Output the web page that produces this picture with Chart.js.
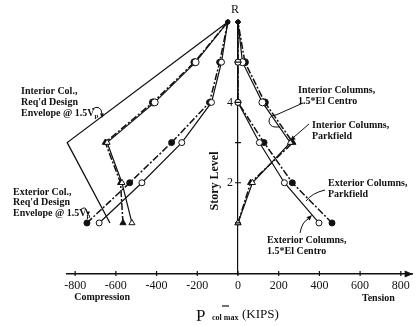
<!DOCTYPE html>
<html>
<head>
<meta charset="utf-8">
<script src="https://cdn.jsdelivr.net/npm/chart.js@4.4.1/dist/chart.umd.min.js"></script>
<style>
  html, body { margin: 0; padding: 0; background: #fff; }
</style>
</head>
<body>
<canvas id="chart" width="417" height="326"></canvas>
<script>
// story levels, 6 = roof (R)
const levels = [1, 2, 3, 4, 5, 6];
const xTicks = [-800, -600, -400, -200, 0, 200, 400, 600, 800];
const yLabels = { 2: '2', 4: '4', 6: 'R' };

// max column axial force, kips, level 1 .. R  (compression side)
const intElCentroComp = [-521, -570, -643, -409, -208, -50];
const intParkfieldComp = [-565, -577, -652, -418, -214, -50];
const extElCentroComp = [-682, -472, -276, -130, -81, -50];
const extParkfieldComp = [-742, -532, -326, -140, -90, -50];

// tension side
const intElCentroTens = [0, 71, 257, 120, 22, 0];
const intParkfieldTens = [0, 62, 270, 132, 34, 0];
const extElCentroTens = [398, 228, 105, 0, 0, 0];
const extParkfieldTens = [462, 267, 128, 0, 0, 0];

// interior column required design envelope @ 1.5Vp
const envLevels = [1, 3, 6];
const intEnvelope = [-629, -839, -50];

const ink = '#111';
const serif = '"Liberation Serif", "Times New Roman", serif';

const pts = (xs, ys) => xs.map((v, i) => ({ x: v, y: ys[i] }));
const intShape = ctx => (ctx.raw && ctx.raw.y <= 3 ? 'triangle' : 'circle');
// roof points are small filled dots in the original
const radius = r => ctx => (ctx.raw && ctx.raw.y === 6 ? 2 : r);

function series(data, opts) {
  return Object.assign({
    data,
    showLine: true,
    clip: false,
    borderColor: ink,
    borderWidth: 1.2,
    pointBorderColor: ink,
    pointBorderWidth: 1,
    pointRadius: radius(3),
  }, opts);
}

const elCentro = { borderDash: [], pointBackgroundColor: ctx => (ctx.raw && ctx.raw.y === 6 ? ink : '#fff') };
const parkfield = { borderDash: [7, 2, 2, 2], borderWidth: 1.5, pointBackgroundColor: ink };
const interior = { pointStyle: intShape, pointRadius: radius(3.5) };

const datasets = [
  series(pts(intEnvelope, envLevels), { pointRadius: 0, borderWidth: 1.3 }),
  series(pts(extElCentroComp, levels), elCentro),
  series(pts(extParkfieldComp, levels), parkfield),
  series(pts(intElCentroComp, levels), Object.assign({}, interior, elCentro)),
  series(pts(intParkfieldComp, levels), Object.assign({}, interior, parkfield)),
  series(pts(extElCentroTens, levels), elCentro),
  series(pts(extParkfieldTens, levels), parkfield),
  series(pts(intElCentroTens, levels), Object.assign({}, interior, elCentro)),
  series(pts(intParkfieldTens, levels), Object.assign({}, interior, parkfield)),
];

function arrowHead(ctx, x, y, ang, size) {
  ctx.beginPath();
  ctx.moveTo(x, y);
  ctx.lineTo(x - size * Math.cos(ang - 0.4), y - size * Math.sin(ang - 0.4));
  ctx.lineTo(x - size * Math.cos(ang + 0.4), y - size * Math.sin(ang + 0.4));
  ctx.closePath();
  ctx.fill();
}

function textLines(ctx, lines, x, y, lh) {
  lines.forEach((t, i) => {
    if (t.endsWith('Vp')) {
      const base = t.slice(0, -1);
      ctx.fillText(base, x, y + i * lh);
      const w = ctx.measureText(base).width;
      const f = ctx.font;
      ctx.font = 'bold 7px ' + serif;
      ctx.fillText('p', x + w, y + i * lh + 3);
      ctx.font = f;
    } else {
      ctx.fillText(t, x, y + i * lh);
    }
  });
}

const decor = {
  id: 'decor',
  afterDraw(chart) {
    const { ctx, scales: { x, y } } = chart;
    const x0 = x.getPixelForValue(0);
    const yb = y.getPixelForValue(y.min);
    ctx.save();
    ctx.strokeStyle = ink;
    ctx.fillStyle = ink;
    ctx.lineWidth = 1.2;

    // axis tick marks
    ctx.beginPath();
    xTicks.forEach(v => {
      const px = x.getPixelForValue(v);
      ctx.moveTo(px, yb - 3); ctx.lineTo(px, yb + 2);
    });
    levels.forEach(v => {
      const py = y.getPixelForValue(v);
      ctx.moveTo(x0 - 3, py); ctx.lineTo(x0 + 3, py);
    });
    ctx.stroke();
    arrowHead(ctx, x.right + 1, yb, 0, 9);

    // story level labels (R sits above the axis top)
    ctx.textBaseline = 'middle';
    ctx.textAlign = 'center';
    ctx.font = '12px ' + serif;
    levels.forEach(v => {
      if (!yLabels[v]) return;
      const py = y.getPixelForValue(v);
      if (v === 6) ctx.fillText(yLabels[v], x0 - 3, py - 12);
      else ctx.fillText(yLabels[v], x0 - 8, py);
    });
    ctx.save();
    ctx.translate(x0 - 23, 181);
    ctx.rotate(-Math.PI / 2);
    ctx.font = 'bold 12px ' + serif;
    ctx.fillText('Story Level', 0, 0);
    ctx.restore();
    ctx.font = 'bold 10px ' + serif;
    ctx.fillText('Compression', x.getPixelForValue(-667), 297);
    ctx.fillText('Tension', x.getPixelForValue(690), 298);

    ctx.textAlign = 'left';
    ctx.textBaseline = 'alphabetic';
    ctx.font = '17px ' + serif;
    ctx.fillText('P', 196, 321);
    ctx.font = 'bold 8px ' + serif;
    ctx.fillText('col max', 212, 320);
    ctx.font = '13px ' + serif;
    ctx.fillText('(KIPS)', 242, 318);
    ctx.beginPath();
    ctx.moveTo(222, 306); ctx.lineTo(229, 306);
    ctx.stroke();

    // annotations
    ctx.textBaseline = 'middle';
    ctx.font = 'bold 10px ' + serif;
    textLines(ctx, ['Interior Col.,', "Req'd Design", 'Envelope @ 1.5Vp'], 21, 91, 11);
    textLines(ctx, ['Exterior Col.,', "Req'd Design", 'Envelope @ 1.5Vp'], 13, 192, 10.5);
    textLines(ctx, ['Interior Columns,', '1.5*El Centro'], 298, 90, 11);
    textLines(ctx, ['Interior Columns,', 'Parkfield'], 312, 125, 11);
    textLines(ctx, ['Exterior Columns,', 'Parkfield'], 328, 183, 11);
    textLines(ctx, ['Exterior Columns,', '1.5*El Centro'], 267, 240, 11);

    ctx.lineWidth = 1;
    ctx.beginPath();
    ctx.moveTo(92, 109); ctx.quadraticCurveTo(101, 104, 102, 114);
    ctx.stroke();
    arrowHead(ctx, 102, 118, Math.PI / 2, 5);

    ctx.beginPath();
    ctx.moveTo(80, 210); ctx.quadraticCurveTo(86, 205, 87, 212);
    ctx.stroke();
    arrowHead(ctx, 88, 216, Math.PI / 2, 5);

    ctx.beginPath();
    ctx.moveTo(303, 103); ctx.lineTo(276, 115);
    ctx.arc(275, 121, 6, -Math.PI / 2, Math.PI / 2, true);
    ctx.lineTo(280, 127);
    ctx.stroke();

    ctx.beginPath();
    ctx.moveTo(309, 124); ctx.lineTo(294, 137);
    ctx.stroke();
    arrowHead(ctx, 290, 141, Math.atan2(13, -15), 6);

    ctx.beginPath();
    ctx.moveTo(325, 190); ctx.quadraticCurveTo(312, 193, 306, 201);
    ctx.stroke();

    ctx.beginPath();
    ctx.moveTo(300, 233); ctx.quadraticCurveTo(302, 222, 308, 219);
    ctx.stroke();
    arrowHead(ctx, 312, 215, -Math.PI / 4, 6);

    ctx.restore();
  }
};

new Chart(document.getElementById('chart'), {
  type: 'scatter',
  data: { datasets },
  options: {
    responsive: false,
    animation: false,
    layout: { padding: { left: 67, right: 4, top: 22, bottom: 0 } },
    plugins: { legend: { display: false }, tooltip: { enabled: false } },
    scales: {
      x: {
        type: 'linear',
        min: -840,
        max: 855,
        position: 'bottom',
        afterFit: s => { s.height = 52; },
        afterBuildTicks: s => { s.ticks = xTicks.map(v => ({ value: v })); },
        grid: { display: false, drawTicks: false },
        border: { display: true, color: ink, width: 1.5 },
        ticks: { color: ink, font: { family: serif, size: 12 }, padding: 5, maxRotation: 0, autoSkip: false }
      },
      y: {
        type: 'linear',
        min: -0.27,
        max: 6,
        position: { x: 0 },
        afterBuildTicks: s => { s.ticks = levels.map(v => ({ value: v })); },
        grid: { display: false, drawTicks: false },
        border: { display: true, color: ink, width: 1.2 },
        ticks: { display: false }
      }
    }
  },
  plugins: [decor]
});
</script>
</body>
</html>
